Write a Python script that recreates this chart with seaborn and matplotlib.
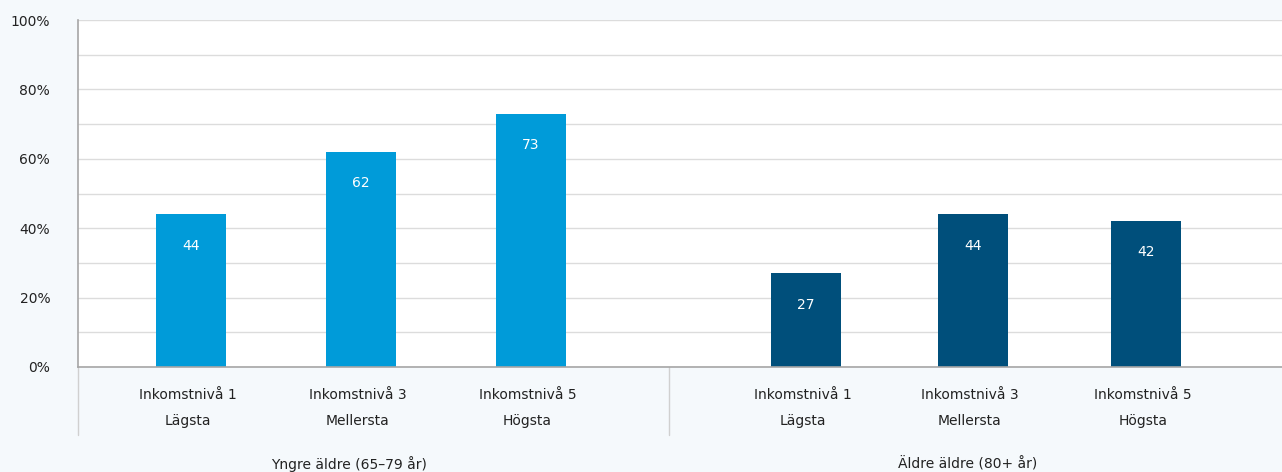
import pandas as pd
import matplotlib.pyplot as plt
import seaborn as sns

groups = ["Yngre äldre (65–79 år)", "Äldre äldre (80+ år)"]
levels = ["Inkomstnivå 1\nLägsta", "Inkomstnivå 3\nMellersta", "Inkomstnivå 5\nHögsta"]
young = [44, 62, 73]
old = [27, 44, 42]

colors = {"Yngre äldre (65–79 år)": "#009bd9", "Äldre äldre (80+ år)": "#004f7b"}

# bar slots: three per group, with a gap between the groups
slots = [0, 1, 2, 3.62, 4.6, 5.62]
df = pd.DataFrame({
    "pos": slots,
    "value": young + old,
    "group": [groups[0]] * 3 + [groups[1]] * 3,
    "level": levels * 2,
})

sns.set_style("white")
plt.rcParams["font.family"] = ["DejaVu Sans"]

bg = "#f5f9fc"
fig = plt.figure(figsize=(12.82, 4.72), dpi=100, facecolor=bg)
ax = fig.add_axes([78 / 1282, 1 - 367 / 472, 1 - 78 / 1282, 347 / 472])
ax.set_facecolor("white")

sns.barplot(data=df, x="pos", y="value", hue="group", palette=colors,
            native_scale=True, width=0.42, legend=False, ax=ax, saturation=1,
            linewidth=0)

ax.set_xlim(-0.665, 6.42)
ax.set_ylim(0, 100)
ax.set_yticks(range(0, 101, 20))
ax.set_yticks(range(10, 100, 20), minor=True)
ax.set_yticklabels([f"{t}%" for t in range(0, 101, 20)], fontsize=10, color="#222222")
ax.tick_params(axis="y", which="both", length=0, pad=20)
ax.set_xticks([])
ax.set_xlabel("")
ax.set_ylabel("")
ax.grid(axis="y", which="both", color="#dcdcdc", linewidth=1)
ax.set_axisbelow(True)

for s in ["top", "right"]:
    ax.spines[s].set_visible(False)
ax.spines["left"].set_color("#a6a6a6")
ax.spines["bottom"].set_color("#a6a6a6")
ax.spines["left"].set_linewidth(1.2)
ax.spines["bottom"].set_linewidth(1.2)

# value labels inside bars
for p, v in zip(df["pos"], df["value"]):
    ax.text(p, v - 9, str(v), ha="center", va="center", color="white", fontsize=10)

# category labels below axis
trans = ax.get_xaxis_transform()
for p, lab in zip(df["pos"], df["level"]):
    l1, l2 = lab.split("\n")
    ax.text(p - 0.02, -0.08, l1, transform=trans, ha="center", va="center",
            fontsize=10, color="#222222")
    ax.text(p - 0.02, -0.155, l2, transform=trans, ha="center", va="center",
            fontsize=10, color="#222222")

ax.text(0.93, -0.28, groups[0], transform=trans, ha="center", va="center",
        fontsize=10, color="#222222")
ax.text(4.57, -0.28, groups[1], transform=trans, ha="center", va="center",
        fontsize=10, color="#222222")

# group separators
for xs in [-0.665, 2.81]:
    ax.plot([xs, xs], [0, -0.195], transform=trans, color="#d0d0d0",
            linewidth=1, clip_on=False)

fig.savefig("out.png", dpi=100, facecolor=bg)
